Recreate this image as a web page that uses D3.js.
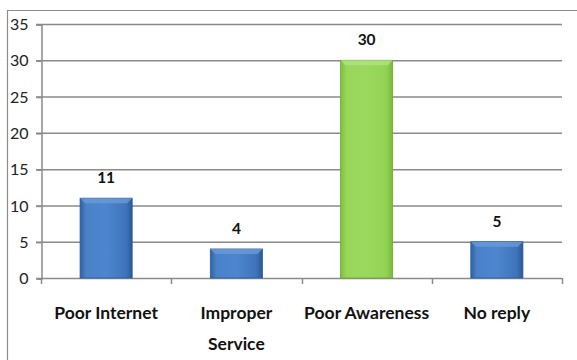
<!DOCTYPE html>
<html>
<head>
<meta charset="utf-8">
<script src="https://cdn.jsdelivr.net/npm/d3@7.9.0/dist/d3.min.js"></script>
<style>
  body { margin: 0; background: #fff; }
  svg { display: block; }
</style>
</head>
<body>
<svg id="chart" width="577" height="360"></svg>
<script>
const categories = ['Poor Internet', 'Improper Service', 'Poor Awareness', 'No reply'];
const values = [11, 4, 30, 5];
const highlight = ['Poor Awareness'];
const yTicks = [0, 5, 10, 15, 20, 25, 30, 35];

const svg = d3.select('#chart');
const margin = { left: 41, right: 15, top: 24, bottom: 82 };
const width = 577, height = 360;
const font = 'Lato, "Open Sans", sans-serif';

// outer frame (only top and left edges show in the crop)
svg.append('path')
  .attr('d', `M7.5,${height} V10.5 H${width}`)
  .attr('fill', 'none')
  .attr('stroke', '#8c8c8c')
  .attr('stroke-width', 1.2);

const x = d3.scaleBand()
  .domain(categories)
  .range([margin.left, width - margin.right])
  .paddingInner(0.6)
  .paddingOuter(0.3);

const y = d3.scaleLinear()
  .domain([0, 35])
  .range([height - margin.bottom, margin.top]);

const defs = svg.append('defs');
function makeGrad(id, stops) {
  const g = defs.append('linearGradient').attr('id', id)
    .attr('x1', 0).attr('x2', 1).attr('y1', 0).attr('y2', 0);
  stops.forEach(([o, c]) => g.append('stop').attr('offset', o).attr('stop-color', c));
}
makeGrad('blue', [[0, '#2f62a6'], [0.12, '#4a82c9'], [0.5, '#4d86cf'], [0.88, '#3f74ba'], [1, '#2a5897']]);
makeGrad('green', [[0, '#7fbf3c'], [0.12, '#98d75a'], [0.5, '#9bd95e'], [0.88, '#92d253'], [1, '#79b838']]);

// gridlines
svg.append('g')
  .selectAll('line')
  .data(yTicks.filter(d => d > 0))
  .join('line')
  .attr('x1', margin.left - 5)
  .attr('x2', width - margin.right)
  .attr('y1', d => y(d) + 0.5)
  .attr('y2', d => y(d) + 0.5)
  .attr('stroke', '#8a8a8a')
  .attr('stroke-width', 1.5);

// y axis
const yAxis = svg.append('g')
  .attr('transform', `translate(${margin.left + 0.5},0.5)`)
  .call(d3.axisLeft(y).tickValues(yTicks).tickSize(5).tickPadding(8));
yAxis.select('.domain').attr('stroke', '#8a8a8a').attr('stroke-width', 1.5);
yAxis.selectAll('.tick line').attr('stroke', '#8a8a8a').attr('stroke-width', 1.5);
yAxis.selectAll('.tick text')
  .attr('font-family', font)
  .attr('font-size', 16)
  .attr('fill', '#222');

// x axis baseline with category ticks
const bounds = categories.map(c => x(c) - x.step() * x.paddingInner() / 2);
bounds.push(width - margin.right);
svg.append('line')
  .attr('x1', margin.left - 5).attr('x2', width - margin.right)
  .attr('y1', y(0) + 0.5).attr('y2', y(0) + 0.5)
  .attr('stroke', '#8a8a8a').attr('stroke-width', 1.5);
svg.append('g').selectAll('line')
  .data(bounds)
  .join('line')
  .attr('x1', d => Math.round(d) + 0.5).attr('x2', d => Math.round(d) + 0.5)
  .attr('y1', y(0)).attr('y2', y(0) + 6)
  .attr('stroke', '#8a8a8a').attr('stroke-width', 1.5);

// bars
const bars = svg.append('g').selectAll('g')
  .data(categories.map((c, i) => ({ c, v: values[i] })))
  .join('g');

bars.append('rect')
  .attr('x', d => x(d.c))
  .attr('y', d => y(d.v))
  .attr('width', x.bandwidth())
  .attr('height', d => y(0) - y(d.v))
  .attr('fill', d => highlight.includes(d.c) ? 'url(#green)' : 'url(#blue)')
  .attr('stroke', d => highlight.includes(d.c) ? '#6fa534' : '#2b5a96')
  .attr('stroke-width', 0.8);

// bevel on top edge
bars.append('path')
  .attr('d', d => {
    const x0 = x(d.c), x1 = x0 + x.bandwidth(), t = y(d.v);
    return `M${x0},${t} L${x1},${t} L${x1 - 5},${t + 5} L${x0 + 5},${t + 5} Z`;
  })
  .attr('fill', d => highlight.includes(d.c) ? '#b3e27f' : '#6b9ad6')
  .attr('opacity', 0.8);

// value labels
bars.append('text')
  .attr('x', d => x(d.c) + x.bandwidth() / 2)
  .attr('y', d => y(d.v) - 15)
  .attr('text-anchor', 'middle')
  .attr('font-family', font)
  .attr('font-weight', 'bold')
  .attr('font-size', 15.5)
  .attr('fill', '#111')
  .text(d => d.v);

// category labels
const wrap = { 'Improper Service': ['Improper', 'Service'] };
svg.append('g').selectAll('text')
  .data(categories)
  .join('text')
  .attr('x', d => x(d) + x.bandwidth() / 2)
  .attr('y', 319)
  .attr('text-anchor', 'middle')
  .attr('font-family', font)
  .attr('font-weight', 'bold')
  .attr('font-size', 17.5)
  .attr('fill', '#111')
  .each(function (d) {
    const lines = wrap[d] || [d];
    d3.select(this).selectAll('tspan')
      .data(lines)
      .join('tspan')
      .attr('x', x(d) + x.bandwidth() / 2)
      .attr('dy', (l, i) => i === 0 ? 0 : 31)
      .text(l => l);
  });
</script>
</body>
</html>
